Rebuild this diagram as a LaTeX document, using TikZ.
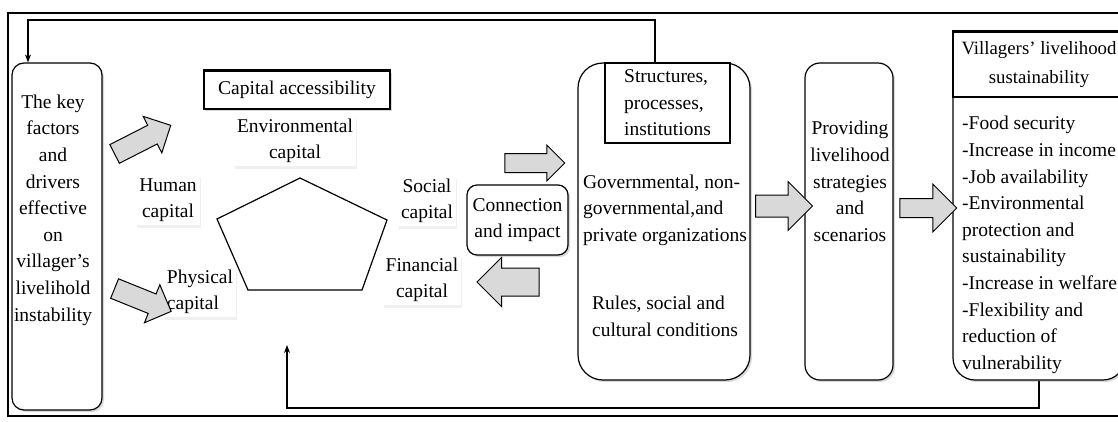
\documentclass[tikz,border=0pt]{standalone}
\usepackage{fontspec}
\setmainfont{Liberation Serif}
\usetikzlibrary{shapes.arrows,arrows.meta,shadows}

\begin{document}
\begin{tikzpicture}[x=1pt, y=-1pt,
    every node/.style={font=\fontsize{19.5}{26.6}\selectfont, inner sep=0pt},
    box/.style={draw, line width=1.2pt, rounded corners=12pt, fill=white,
      drop shadow={opacity=0.3, shadow xshift=2pt, shadow yshift=-2pt}},
    lbl/.style={fill=white, inner sep=3pt,
      drop shadow={opacity=0.12, shadow xshift=1pt, shadow yshift=-3pt}},
    blk/.style={single arrow, draw, line width=1pt, fill=gray!30, inner xsep=0pt},
    fb/.style={line width=1.2pt, -{Stealth[length=8pt,width=6pt]}}]
  \useasboundingbox (0,0) rectangle (1118,421);
  \clip (0,0) rectangle (1118,421);
  \draw[line width=2pt] (8,13) rectangle (1140,416);

  % left box
  \node[box, minimum width=90pt, minimum height=347pt] (key) at (57,236.5) {};
  \node[align=center] (keytxt) at (53,210) {The key\\factors\\and\\drivers\\effective\\on\\villager’s\\livelihold\\instability};

  % capitals
  \node[draw, line width=1.2pt, fill=white, minimum width=186pt, minimum height=38pt,
    drop shadow={opacity=0.3, shadow xshift=2pt, shadow yshift=-2pt}] (cap) at (297,90) {Capital accessibility};
  \draw[line width=3pt] (cap.north west) -- (cap.north east);
  \draw[line width=1.2pt, fill=white] (300,178) -- (387,220) -- (362,290) -- (248,290) -- (217,219) -- cycle;
  \node[lbl, align=center] (env) at (295,141) {Environmental\\capital};
  \node[lbl, align=center] (hum) at (168,200) {Human\\capital};
  \node[lbl, align=left] (phy) at (200,292) {Physical\\capital};
  \node[lbl, align=center] (soc) at (427,201) {Social\\capital};
  \node[lbl, align=center] (fin) at (422,280) {Financial\\capital};
  \node[box, rounded corners=10pt, minimum width=101pt, minimum height=70pt, align=center] (conn) at (517.5,220) {Connection\\and impact};

  % structures
  \node[box, rounded corners=25pt, minimum width=172pt, minimum height=317pt] (struct) at (664,221.5) {};
  \node[draw, line width=1.2pt, fill=white, minimum width=125pt, minimum height=80pt, align=left] (spi) at (667.5,103) {Structures,\\processes,\\institutions};
  \node[align=left] (gov) at (665,210) {Governmental, non-\\governmental,and\\private organizations};
  \node[align=left] (rules) at (665,316.5) {Rules, social and\\cultural conditions};

  % strategies
  \node[box, rounded corners=15pt, minimum width=88pt, minimum height=317pt] (prov) at (849,221.5) {};
  \node[align=center] (provtxt) at (850,181.5) {Providing\\livelihood\\strategies\\and\\scenarios};

  % sustainability
  \node[box, rounded corners=22pt, minimum width=172pt, minimum height=348pt] (vill) at (1039,206) {};
  \node[draw, line width=1.2pt, fill=white, minimum width=172pt, minimum height=65pt, align=center,
    font=\fontsize{18.8}{26}\selectfont] (villtit) at (1039,64.5) {Villagers’ livelihood\\[3pt]sustainability};
  \draw[line width=3pt] (villtit.north west) -- (villtit.north east);
  \node[align=left, anchor=west] (villtxt) at (962,245) {-Food security\\-Increase in income\\-Job availability\\-Environmental\\protection and\\sustainability\\-Increase in welfare\\-Flexibility and\\reduction of\\vulnerability};

  % block arrows
  \node[blk, minimum height=63pt, inner ysep=10pt, single arrow head extend=10pt, rotate=27] (a1) at (138,142) {};
  \node[blk, minimum height=61pt, inner ysep=10pt, single arrow head extend=10pt, rotate=-22] (a2) at (138,298) {};
  \node[blk, minimum height=60pt, inner ysep=9pt, single arrow head extend=8.5pt] (a3) at (530,163) {};
  \node[blk, minimum height=62pt, inner ysep=13.5pt, single arrow head extend=10.5pt, rotate=180] (a4) at (515,282) {};
  \node[blk, minimum height=57pt, inner ysep=10.5pt, single arrow head extend=13.5pt] (a5) at (778.5,206) {};
  \node[blk, minimum height=57pt, inner ysep=9pt, single arrow head extend=14.5pt] (a6) at (923.5,208) {};

  % feedback
  \coordinate (tl) at (28,20);
  \coordinate (bl) at (287,408);
  \coordinate (pent) at (287,345);
  \draw[fb] ([xshift=-9pt]struct.north) |- (tl) -- (tl |- key.north);
  \draw[fb] (vill.south) |- (bl) -- (pent);
\end{tikzpicture}
\end{document}
